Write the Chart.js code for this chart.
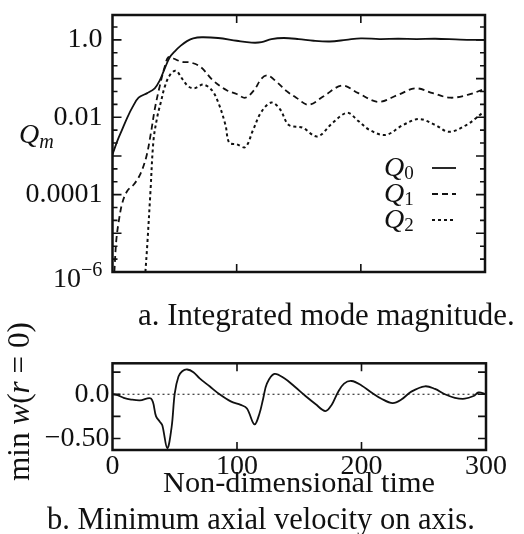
<!DOCTYPE html>
<html>
<head>
<meta charset="utf-8">
<script src="https://cdn.jsdelivr.net/npm/chart.js@4.4.1/dist/chart.umd.min.js"></script>
<style>
  body { margin: 0; background: #fff; width: 524px; height: 534px; position: relative; overflow: hidden; }
  #topChart { position: absolute; left: 0; top: 0; }
  #botChart { position: absolute; left: 0; top: 290px; }
</style>
</head>
<body>
<canvas id="topChart" width="524" height="290"></canvas>
<canvas id="botChart" width="524" height="244"></canvas>
<script>
// a. integrated mode magnitude, one time/value pair of arrays per mode
const q0Time = [0, 4, 8, 12, 16, 21, 28, 34, 38, 42, 46, 50, 55, 60, 65, 72, 85, 100, 112, 120, 128, 138, 150, 162, 175, 188, 200, 215, 230, 245, 260, 280, 300];
const q0Values = [1.1e-3, 2.5e-3, 5e-3, 1e-2, 1.8e-2, 3.2e-2, 4.2e-2, 5.6e-2, 8.9e-2, 0.18, 0.35, 0.5, 0.71, 0.93, 1.1, 1.17, 1.12, 0.95, 0.85, 0.87, 1.05, 1.12, 1.05, 0.95, 0.91, 1.0, 1.1, 1.05, 1.07, 1.05, 1.07, 1.02, 1.0];

const q1Time = [1.5, 3, 5, 8, 12, 17, 22, 27, 31, 34, 38, 42, 45, 49, 56, 63, 71, 81, 92, 100, 107, 114, 120, 125, 132, 140, 148, 158, 170, 185, 198, 214, 230, 244, 258, 272, 286, 300];
const q1Values = [1e-6, 6.3e-6, 2e-5, 6.3e-5, 1.26e-4, 1.8e-4, 3.2e-4, 8.9e-4, 4e-3, 1.6e-2, 6.3e-2, 0.2, 0.36, 0.33, 0.27, 0.26, 0.2, 8.9e-2, 5e-2, 4e-2, 3.2e-2, 5e-2, 0.1, 0.12, 8.3e-2, 4.8e-2, 3.2e-2, 2.1e-2, 3.5e-2, 6.6e-2, 4.2e-2, 2.5e-2, 3.8e-2, 5.6e-2, 4.2e-2, 3.2e-2, 3.8e-2, 5.4e-2];

const q2Time = [26.5, 28, 30.5, 33, 36, 39, 42, 46, 51, 56, 61, 66, 73, 80, 85, 91, 94, 100, 107, 113, 120, 128, 135, 142, 153, 165, 177, 189, 198, 207, 220, 234, 247, 260, 271, 285, 298];
const q2Values = [1e-6, 5e-6, 1.1e-4, 2.5e-3, 1e-2, 2.5e-2, 6e-2, 0.12, 0.16, 0.1, 6.3e-2, 5.6e-2, 7e-2, 5e-2, 2.5e-2, 6.3e-3, 2.2e-3, 2e-3, 1.7e-3, 4.5e-3, 1.4e-2, 2.4e-2, 1.6e-2, 6.3e-3, 5.4e-3, 3.2e-3, 7e-3, 1.3e-2, 8e-3, 4.7e-3, 3.5e-3, 6.3e-3, 9e-3, 6.3e-3, 4.2e-3, 6.3e-3, 1.3e-2];

const seriesNames = ['Q0', 'Q1', 'Q2'];
const magTickValues = [1e-4, 0.01, 1];
const magTickLabels = ['0.0001', '0.01', '1.0'];

// b. minimum axial velocity on axis
const wTime = [0, 4, 9, 15, 22, 31, 35, 38, 40, 44, 47.5, 50, 53, 56, 60, 65, 70, 78, 86, 95, 103, 108, 114, 118, 121, 124, 130, 138, 146, 155, 163, 171, 176, 181, 186, 192, 200, 208, 216, 225, 232, 240, 251, 259, 267, 275, 283, 290, 294, 300];
const wValues = [0.0, -0.01, -0.04, -0.06, -0.07, -0.05, -0.25, -0.31, -0.35, -0.61, -0.37, 0.01, 0.2, 0.26, 0.28, 0.25, 0.18, 0.09, 0.0, -0.08, -0.12, -0.16, -0.34, -0.22, -0.05, 0.12, 0.23, 0.18, 0.09, -0.02, -0.11, -0.19, -0.12, 0.02, 0.12, 0.15, 0.1, 0.02, -0.05, -0.1, -0.06, 0.03, 0.09, 0.06, 0.0, -0.04, -0.05, -0.02, 0.02, 0.0];
const wZero = [0, 0];
const wZeroTime = [0, 300];

const timeTicks = [0, 100, 200, 300];
const wTickValues = [-0.5, 0];
const wTickLabels = ['\u22120.50', '0.0'];

const SERIF = '"Liberation Serif", "Times New Roman", serif';
const INK = '#111';

function pts(xs, ys) {
  return xs.map((t, i) => ({ x: t, y: ys[i] }));
}

// draws a list of [text, italic, sizeScale, dy] pieces, scaled to a given total width
function drawRich(ctx, pieces, x, y, size, width) {
  const fontOf = (p, s) => (p[1] ? 'italic ' : '') + (s * (p[2] || 1)) + 'px ' + SERIF;
  let total = 0;
  pieces.forEach(p => { ctx.font = fontOf(p, size); total += ctx.measureText(p[0]).width; });
  const s = width ? size * width / total : size;
  let cx = x;
  pieces.forEach(p => {
    ctx.font = fontOf(p, s);
    ctx.fillText(p[0], cx, y + (p[3] || 0));
    cx += ctx.measureText(p[0]).width;
  });
  return cx;
}

const topDecor = {
  id: 'topDecor',
  afterDraw(chart) {
    const { ctx, chartArea: a, scales: { x, y } } = chart;
    ctx.save();
    ctx.strokeStyle = INK;
    ctx.fillStyle = INK;
    ctx.lineWidth = 1.6;
    ctx.beginPath();
    for (let k = -18; k <= 1; k++) {
      const py = y.getPixelForValue(Math.pow(10, k / 3));
      const len = k % 3 === 0 ? 9 : 5;
      ctx.moveTo(a.left, py); ctx.lineTo(a.left + len, py);
      ctx.moveTo(a.right, py); ctx.lineTo(a.right - len, py);
    }
    [100, 200].forEach(v => {
      const px = x.getPixelForValue(v);
      ctx.moveTo(px, a.top); ctx.lineTo(px, a.top + 8);
      ctx.moveTo(px, a.bottom); ctx.lineTo(px, a.bottom - 8);
    });
    ctx.stroke();
    ctx.lineWidth = 2.5;
    ctx.strokeRect(a.left, a.top, a.right - a.left, a.bottom - a.top);

    // 10^-6 label at the bottom tick
    ctx.textBaseline = 'alphabetic';
    const yb = y.getPixelForValue(1e-6);
    drawRich(ctx, [['10', false, 1, 0], ['\u22126', false, 0.72, -11]], 53, yb + 15, 28);

    // axis symbol Q_m
    drawRich(ctx, [['Q', true, 1, 0], ['m', true, 0.72, 5]], 19, 143, 28);

    // legend
    chart.data.datasets.forEach((ds, i) => {
      const ly = 168 + i * 26;
      const name = seriesNames[i];
      drawRich(ctx, [[name[0], true, 1, 0], [name.slice(1), false, 0.68, 3]], 384, ly + 8, 28);
      ctx.lineWidth = ds.borderWidth;
      ctx.setLineDash(ds.borderDash || []);
      ctx.beginPath();
      ctx.moveTo(432, ly); ctx.lineTo(456, ly);
      ctx.stroke();
      ctx.setLineDash([]);
    });
    ctx.restore();
  }
};

const OFF = 290; // page y of the lower canvas

const botDecor = {
  id: 'botDecor',
  afterDraw(chart) {
    const { ctx, chartArea: a, scales: { x, y } } = chart;
    ctx.save();
    ctx.strokeStyle = INK;
    ctx.fillStyle = INK;
    ctx.lineWidth = 1.6;
    ctx.beginPath();
    [-0.5, -0.25, 0, 0.25].forEach(v => {
      const py = y.getPixelForValue(v);
      ctx.moveTo(a.left, py); ctx.lineTo(a.left + 8, py);
      ctx.moveTo(a.right, py); ctx.lineTo(a.right - 8, py);
    });
    [100, 200].forEach(v => {
      const px = x.getPixelForValue(v);
      ctx.moveTo(px, a.top); ctx.lineTo(px, a.top + 8);
      ctx.moveTo(px, a.bottom); ctx.lineTo(px, a.bottom - 8);
    });
    ctx.stroke();
    ctx.lineWidth = 2.5;
    ctx.strokeRect(a.left, a.top, a.right - a.left, a.bottom - a.top);

    ctx.textBaseline = 'alphabetic';
    // captions and x title
    drawRich(ctx, [['a. Integrated mode magnitude.', false]], 138, 325 - OFF, 26, 377);
    drawRich(ctx, [['Non-dimensional time', false]], 163, 492 - OFF, 26, 272);
    drawRich(ctx, [['b. Minimum axial velocity on axis.', false]], 47, 529 - OFF, 26, 428);

    // rotated y title
    ctx.translate(29, 402 - OFF);
    ctx.rotate(-Math.PI / 2);
    drawRich(ctx, [['min ', false], ['w', true], ['(', false], ['r', true], [' = 0)', false]], -79, 0, 28, 159);
    ctx.restore();
  }
};

const tickFont = { family: SERIF, size: 28 };

new Chart(document.getElementById('topChart'), {
  type: 'line',
  data: {
    datasets: [
      { label: seriesNames[0], data: pts(q0Time, q0Values), borderColor: INK, borderWidth: 1.8, pointRadius: 0, tension: 0.35 },
      { label: seriesNames[1], data: pts(q1Time, q1Values), borderColor: INK, borderWidth: 1.8, borderDash: [6, 4], pointRadius: 0, tension: 0.35 },
      { label: seriesNames[2], data: pts(q2Time, q2Values), borderColor: INK, borderWidth: 2, borderDash: [3, 3], pointRadius: 0, tension: 0.35 }
    ]
  },
  options: {
    responsive: false,
    animation: false,
    layout: { padding: { top: 15, right: 39, bottom: 18, left: 0 } },
    plugins: { legend: { display: false }, tooltip: { enabled: false } },
    scales: {
      x: { type: 'linear', min: 0, max: 300, display: false },
      y: {
        type: 'logarithmic', min: 1e-6, max: 4.4,
        afterBuildTicks: s => { s.ticks = magTickValues.map(v => ({ value: v })); },
        afterFit: s => { s.width = 112.5; s.paddingTop = 0; s.paddingBottom = 0; },
        grid: { display: false, drawTicks: false }, border: { display: false },
        ticks: { font: tickFont, color: INK, padding: 10, autoSkip: false, callback: (v, i) => magTickLabels[i] }
      }
    }
  },
  plugins: [topDecor]
});

new Chart(document.getElementById('botChart'), {
  type: 'line',
  data: {
    datasets: [
      { data: pts(wTime, wValues), borderColor: INK, borderWidth: 1.8, pointRadius: 0, tension: 0.35 },
      { data: pts(wZeroTime, wZero), borderColor: INK, borderWidth: 1.2, borderDash: [2, 3], pointRadius: 0 }
    ]
  },
  options: {
    responsive: false,
    animation: false,
    layout: { padding: { top: 73.3, right: 38, bottom: 0, left: 0 } },
    plugins: { legend: { display: false }, tooltip: { enabled: false } },
    scales: {
      x: {
        type: 'linear', min: 0, max: 300,
        afterBuildTicks: s => { s.ticks = timeTicks.map(v => ({ value: v })); },
        afterFit: s => { s.height = 84; s.paddingLeft = 0; s.paddingRight = 0; },
        grid: { display: false, drawTicks: false }, border: { display: false },
        ticks: { font: tickFont, color: INK, padding: 0, maxRotation: 0, autoSkip: false, callback: v => String(v) }
      },
      y: {
        min: -0.63, max: 0.35,
        afterBuildTicks: s => { s.ticks = wTickValues.map(v => ({ value: v })); },
        afterFit: s => { s.width = 112.5; s.paddingTop = 0; s.paddingBottom = 0; },
        grid: { display: false, drawTicks: false }, border: { display: false },
        ticks: { font: tickFont, color: INK, padding: 3, autoSkip: false, callback: (v, i) => wTickLabels[i] }
      }
    }
  },
  plugins: [botDecor]
});
</script>
</body>
</html>
